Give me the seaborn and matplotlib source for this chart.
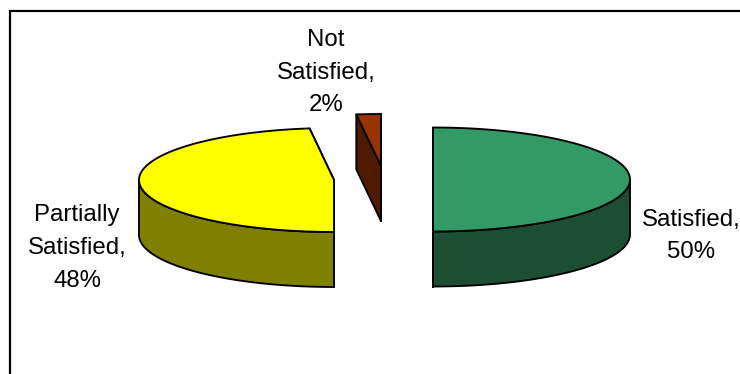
import numpy as np
import matplotlib
matplotlib.use("Agg")
import matplotlib.pyplot as plt
import seaborn as sns

# Survey results
labels = ["Satisfied,\n50%", "Partially\nSatisfied,\n48%", "Not\nSatisfied,\n2%"]
shares = [50, 48, 2]
top_colors = ["#339966", "#FFFF00", "#993300"]
side_colors = ["#1C4E34", "#808000", "#4F1B00"]

# Pie shape and the point each exploded slice hangs from (pixel units)
RADII_X = [197, 195, 197]
RY, DEPTH = 52, 55
centers = [(433, 179.5), (334, 180), (381, 166)]
label_pos = [(691, 236), (77, 248), (326, 72.5)]

sns.set_theme(style="white")
plt.rcParams["font.family"] = ["Liberation Sans", "DejaVu Sans"]

fig = plt.figure(figsize=(7.4, 3.74), dpi=100, facecolor="white")
ax = fig.add_axes([0, 0, 1, 1])
ax.set_xlim(0, 740)
ax.set_ylim(374, 0)
ax.axis("off")

EDGE = dict(edgecolor="black", linewidth=1.35, joinstyle="round")


def rim(cx, cy, rx, start, stop, n=120):
    # Angles run clockwise from twelve o'clock, in degrees
    t = np.radians(np.linspace(start, stop, n))
    return cx + rx * np.sin(t), cy - RY * np.cos(t)


def draw_slice(center, rx, start, stop, top, side):
    cx, cy = center
    # Inner cut faces
    for angle in (start, stop):
        ex, ey = rim(cx, cy, rx, angle, angle, 1)
        ax.fill([cx, ex[0], ex[0], cx], [cy, ey[0], ey[0] + DEPTH, cy + DEPTH],
                facecolor=side, **EDGE)
    # Outer wall along the front half of the rim
    lo, hi = max(start, 90), min(stop, 270)
    if lo < hi:
        x, y = rim(cx, cy, rx, lo, hi)
        ax.fill(np.r_[x, x[::-1]], np.r_[y, y[::-1] + DEPTH], facecolor=side, **EDGE)
    # Top face
    x, y = rim(cx, cy, rx, start, stop)
    ax.fill(np.r_[cx, x], np.r_[cy, y], facecolor=top, **EDGE)


edges = np.r_[0, np.cumsum(shares)] / sum(shares) * 360
for i in (2, 1, 0):
    draw_slice(centers[i], RADII_X[i], edges[i], edges[i + 1], top_colors[i], side_colors[i])

for text, (x, y) in zip(labels, label_pos):
    ax.text(x, y, text, ha="center", va="center", fontsize=17.3, color="black",
            linespacing=1.62)

# Chart frame: only the top and left borders fall inside the canvas
ax.plot([9.5, 9.5, 740], [374, 10.5, 10.5], color="black", linewidth=1.6,
        solid_joinstyle="miter")

fig.savefig("out.png", dpi=100)
